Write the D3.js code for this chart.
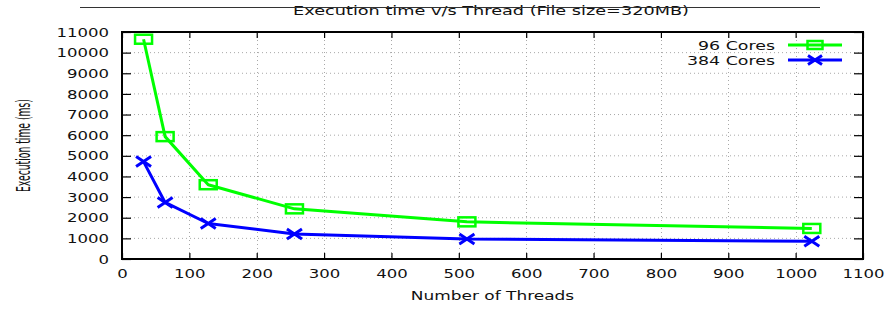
<!DOCTYPE html>
<html>
<head>
<meta charset="utf-8">
<script src="https://cdn.jsdelivr.net/npm/d3@7"></script>
<style>
  html, body { margin: 0; padding: 0; background: #fff; }
  svg { display: block; }
  text { font-family: "DejaVu Sans", Verdana, sans-serif; fill: #111; }
</style>
</head>
<body>
<div id="chart"></div>
<script>
// ---- data ----
const threads = [32, 64, 128, 256, 512, 1024];
const cores96 = [10650, 5930, 3600, 2430, 1800, 1480];
const cores384 = [4720, 2740, 1720, 1215, 970, 860];
const seriesNames = ["96 Cores", "384 Cores"];
const xTicks = [0, 100, 200, 300, 400, 500, 600, 700, 800, 900, 1000, 1100];
const yTicks = [0, 1000, 2000, 3000, 4000, 5000, 6000, 7000, 8000, 9000, 10000, 11000];
const titleText = "Execution time v/s Thread (File size=320MB)";
const xLabel = "Number of Threads";
const yLabel = "Execution time (ms)";

// ---- layout ----
const W = 890, H = 309;
const L = 122, R = 863, T = 32, B = 259;
const SX = 1.45; // horizontal stretch of text
const GREEN = "#00ff00", BLUE = "#0000ff";

const svg = d3.select("#chart").append("svg").attr("width", W).attr("height", H);

const x = d3.scaleLinear().domain([0, 1100]).range([L, R]);
const y = d3.scaleLinear().domain([0, 11000]).range([B, T]);

// grid
const grid = svg.append("g");
grid.selectAll("line.gy").data(yTicks.slice(1, -1)).enter().append("line")
  .attr("x1", L).attr("x2", R).attr("y1", d => y(d)).attr("y2", d => y(d))
  .attr("stroke", "#a8a8a8").attr("stroke-width", 1).attr("stroke-dasharray", "1,3");
grid.selectAll("line.gx").data(xTicks.slice(1, -1)).enter().append("line")
  .attr("y1", T).attr("y2", B).attr("x1", d => Math.round(x(d)) + 0.5).attr("x2", d => Math.round(x(d)) + 0.5)
  .attr("stroke", "#a8a8a8").attr("stroke-width", 1).attr("stroke-dasharray", "1,3");

// axes
function styleAxis(g) {
  g.select(".domain").remove();
  g.selectAll(".tick line").attr("stroke", "#000").attr("stroke-width", 1.2);
}
const gl = svg.append("g").attr("transform", `translate(${L},0)`)
  .call(d3.axisLeft(y).tickValues(yTicks).tickSize(-9).tickPadding(13).tickFormat(d3.format("d")));
styleAxis(gl);
gl.selectAll(".tick text").attr("x", -13 / SX).attr("transform", `scale(${SX},1)`)
  .attr("font-size", 11.4).attr("dy", "0.36em").attr("font-family", "DejaVu Sans").attr("fill", "#111");

const gb = svg.append("g").attr("transform", `translate(0,${B})`)
  .call(d3.axisBottom(x).tickValues(xTicks).tickSize(-6).tickPadding(19).tickFormat(d3.format("d")));
styleAxis(gb);
gb.selectAll(".tick text").attr("transform", `scale(${SX},1)`).attr("dy", "0")
  .attr("font-size", 11.4).attr("font-family", "DejaVu Sans").attr("fill", "#111");

const gt = svg.append("g").attr("transform", `translate(0,${T})`)
  .call(d3.axisTop(x).tickValues(xTicks).tickSize(-6).tickFormat(""));
styleAxis(gt);
const gr = svg.append("g").attr("transform", `translate(${R},0)`)
  .call(d3.axisRight(y).tickValues(yTicks).tickSize(-9).tickFormat(""));
styleAxis(gr);

// border
svg.append("rect").attr("x", L).attr("y", T).attr("width", R - L).attr("height", B - T)
  .attr("fill", "none").attr("stroke", "#000").attr("stroke-width", 2);

// lines
const line = d3.line().x(d => x(d[0])).y(d => y(d[1]));
const d96 = threads.map((t, i) => [t, cores96[i]]);
const d384 = threads.map((t, i) => [t, cores384[i]]);

svg.append("path").datum(d96).attr("d", line).attr("fill", "none")
  .attr("stroke", GREEN).attr("stroke-width", 3).attr("stroke-linejoin", "round");
svg.append("path").datum(d384).attr("d", line).attr("fill", "none")
  .attr("stroke", BLUE).attr("stroke-width", 3).attr("stroke-linejoin", "round");

// markers
function square(g, cx, cy, w, h) {
  g.append("rect").attr("x", cx - w / 2).attr("y", cy - h / 2).attr("width", w).attr("height", h)
    .attr("fill", "none").attr("stroke", GREEN).attr("stroke-width", 2.5);
}
function cross(g, cx, cy, w, h) {
  g.append("path").attr("d", `M${cx - w / 2},${cy - h / 2}L${cx + w / 2},${cy + h / 2}M${cx - w / 2},${cy + h / 2}L${cx + w / 2},${cy - h / 2}`)
    .attr("stroke", BLUE).attr("stroke-width", 3).attr("fill", "none");
}
const mg = svg.append("g");
d96.forEach(d => square(mg, x(d[0]), y(d[1]), 17, 9));
d384.forEach(d => cross(mg, x(d[0]), y(d[1]), 15, 10));

// legend
const lg = svg.append("g");
const legY = [45, 60];
seriesNames.forEach((name, i) => {
  lg.append("text").attr("transform", `translate(775,${legY[i] + 4.5}) scale(${SX},1)`)
    .attr("text-anchor", "end").attr("font-size", 12).text(name);
  lg.append("line").attr("x1", 788).attr("x2", 842).attr("y1", legY[i]).attr("y2", legY[i])
    .attr("stroke", i === 0 ? GREEN : BLUE).attr("stroke-width", 3);
  if (i === 0) square(lg, 815, legY[i], 15, 8); else cross(lg, 815, legY[i], 14, 9);
});

// title with strike line
svg.append("text").attr("transform", `translate(491,15) scale(${SX},1)`)
  .attr("text-anchor", "middle").attr("font-size", 12.2).text(titleText);
svg.append("line").attr("x1", 80).attr("x2", 820).attr("y1", 7.5).attr("y2", 7.5)
  .attr("stroke", "#333").attr("stroke-width", 1);

// axis labels
svg.append("text").attr("transform", `translate(${(L + R) / 2},300) scale(${SX},1)`)
  .attr("text-anchor", "middle").attr("font-size", 11.7).text(xLabel);
const yl = svg.append("text").attr("text-anchor", "middle").attr("font-size", 20).text(yLabel);
const natural = yl.node().getComputedTextLength() || 190;
yl.attr("transform", `translate(29.5,${(T + B) / 2}) rotate(-90) scale(${93 / natural},1)`);
</script>
</body>
</html>
